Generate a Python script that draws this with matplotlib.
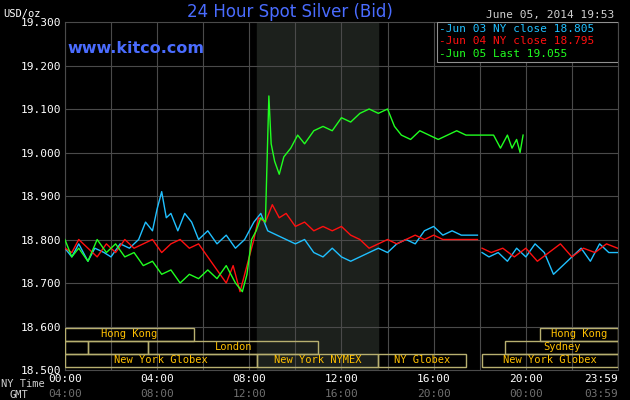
import matplotlib
matplotlib.use('Agg')
import matplotlib.pyplot as plt
import numpy as np

# hours (NY time) and prices
blue_t = [0, 0.3, 0.6, 1.0, 1.3, 1.7, 2.0, 2.4, 2.8, 3.2, 3.5, 3.8, 4.0, 4.2, 4.4, 4.6, 4.9, 5.2, 5.5, 5.8,
          6.2, 6.6, 7.0, 7.4, 7.8, 8.0, 8.2, 8.5, 8.8, 9.2, 9.6, 10.0, 10.4, 10.8, 11.2, 11.6, 12.0, 12.4, 12.8,
          13.2, 13.6, 14.0, 14.4, 14.8, 15.2, 15.6, 16.0, 16.4, 16.8, 17.2, 17.6, 17.9, 18.0,
          18.1, 18.4, 18.8, 19.2, 19.6, 20.0, 20.4, 20.8, 21.2, 21.6, 22.0, 22.4, 22.8, 23.2, 23.6, 23.98]
blue_v = [18.78, 18.76, 18.79, 18.75, 18.78, 18.77, 18.76, 18.79, 18.78, 18.80, 18.84, 18.82, 18.87, 18.91, 18.85, 18.86, 18.82, 18.86, 18.84, 18.80,
          18.82, 18.79, 18.81, 18.78, 18.80, 18.82, 18.84, 18.86, 18.82, 18.81, 18.80, 18.79, 18.80, 18.77, 18.76, 18.78, 18.76, 18.75, 18.76,
          18.77, 18.78, 18.77, 18.79, 18.80, 18.79, 18.82, 18.83, 18.81, 18.82, 18.81, 18.81, 18.81, np.nan,
          18.77, 18.76, 18.77, 18.75, 18.78, 18.76, 18.79, 18.77, 18.72, 18.74, 18.76, 18.78, 18.75, 18.79, 18.77, 18.77]

red_t = [0, 0.3, 0.6, 1.0, 1.4, 1.8, 2.2, 2.6, 3.0, 3.4, 3.8, 4.2, 4.6, 5.0, 5.4, 5.8, 6.2, 6.6, 7.0, 7.3, 7.6, 7.8,
         8.0, 8.2, 8.4, 8.7, 9.0, 9.3, 9.6, 10.0, 10.4, 10.8, 11.2, 11.6, 12.0, 12.4, 12.8, 13.2, 13.6, 14.0, 14.4,
         14.8, 15.2, 15.6, 16.0, 16.4, 16.8, 17.2, 17.6, 17.9, 18.0,
         18.1, 18.5, 19.0, 19.5, 20.0, 20.5, 21.0, 21.5, 22.0, 22.5, 23.0, 23.5, 23.98]
red_v = [18.78, 18.77, 18.80, 18.78, 18.76, 18.79, 18.77, 18.80, 18.78, 18.79, 18.80, 18.77, 18.79, 18.80, 18.78, 18.79, 18.76, 18.73, 18.70, 18.74, 18.68, 18.72,
         18.76, 18.80, 18.85, 18.84, 18.88, 18.85, 18.86, 18.83, 18.84, 18.82, 18.83, 18.82, 18.83, 18.81, 18.80, 18.78, 18.79, 18.80, 18.79,
         18.80, 18.81, 18.80, 18.81, 18.80, 18.80, 18.80, 18.80, 18.80, np.nan,
         18.78, 18.77, 18.78, 18.76, 18.78, 18.75, 18.77, 18.79, 18.76, 18.78, 18.77, 18.79, 18.78]

green_t = [0, 0.3, 0.6, 1.0, 1.4, 1.8, 2.2, 2.6, 3.0, 3.4, 3.8, 4.2, 4.6, 5.0, 5.4, 5.8, 6.2, 6.6, 7.0, 7.4, 7.7, 7.9,
           8.1, 8.3, 8.5, 8.7, 8.85, 8.95, 9.1, 9.3, 9.5, 9.8, 10.1, 10.4, 10.8, 11.2, 11.6, 12.0, 12.4, 12.8, 13.2,
           13.6, 14.0, 14.3, 14.6, 15.0, 15.4, 15.8, 16.2, 16.6, 17.0, 17.4, 17.8, 18.2, 18.6, 18.9, 19.2, 19.4, 19.6, 19.75, 19.88]
green_v = [18.80, 18.76, 18.78, 18.75, 18.80, 18.77, 18.79, 18.76, 18.77, 18.74, 18.75, 18.72, 18.73, 18.70, 18.72, 18.71, 18.73, 18.71, 18.74, 18.70, 18.68, 18.72,
           18.80, 18.82, 18.85, 18.84, 19.13, 19.02, 18.98, 18.95, 18.99, 19.01, 19.04, 19.02, 19.05, 19.06, 19.05, 19.08, 19.07, 19.09, 19.10,
           19.09, 19.10, 19.06, 19.04, 19.03, 19.05, 19.04, 19.03, 19.04, 19.05, 19.04, 19.04, 19.04, 19.04, 19.01, 19.04, 19.01, 19.03, 19.00, 19.04]

# trading sessions: (row, start hour, end hour, label)
sessions = [(0, 0, 5.6, 'Hong Kong'), (0, 20.6, 24, 'Hong Kong'),
            (1, 0, 1.0, ''), (1, 1.0, 3.6, ''), (1, 3.6, 11.0, 'London'), (1, 19.1, 24, 'Sydney'),
            (2, 0, 8.35, 'New York Globex'), (2, 8.35, 13.6, 'New York NYMEX'),
            (2, 13.6, 17.4, 'NY Globex'), (2, 18.1, 24, 'New York Globex')]

xticks = [0, 4, 8, 12, 16, 20, 23.98]
ny_labels = ['00:00', '04:00', '08:00', '12:00', '16:00', '20:00', '23:59']
gmt_labels = ['04:00', '08:00', '12:00', '16:00', '20:00', '00:00', '03:59']

mono = 'DejaVu Sans Mono'
fig = plt.figure(figsize=(6.3, 4.0), dpi=100, facecolor='black')
ax = fig.add_axes([0.103, 0.075, 0.878, 0.87], facecolor='black')
ax.set_xlim(0, 24)
ax.set_ylim(18.5, 19.3)

ax.axvspan(8.35, 13.6, color='#1c201c', zorder=0)
for h in range(0, 24, 2):
    ax.axvline(h, color='#4a4a4a', lw=0.8, zorder=1)
for y in np.arange(18.6, 19.3, 0.1):
    ax.axhline(y, color='#4a4a4a', lw=0.8, zorder=1)

row_h = 0.03
for row, s, e, lab in sessions:
    y0 = 18.597 - (row + 1) * row_h
    ax.add_patch(plt.Rectangle((s, y0), e - s, row_h, fill=False, ec='#b8b070', lw=1, zorder=3))
    if lab:
        ax.text((s + e) / 2, y0 + row_h / 2, lab, color='#ffc000', fontsize=7.5, family=mono,
                ha='center', va='center', zorder=4)

ax.plot(blue_t, blue_v, color='#20c0ff', lw=1, zorder=5)
ax.plot(red_t, red_v, color='#ff1010', lw=1, zorder=6)
ax.plot(green_t, green_v, color='#20ff20', lw=1, zorder=7)

ax.set_yticks(np.arange(18.5, 19.31, 0.1))
ax.set_yticklabels(['%.3f' % v for v in np.arange(18.5, 19.31, 0.1)], color='white', family=mono, fontsize=8)
ax.set_xticks(xticks)
ax.set_xticklabels(ny_labels, color='white', family=mono, fontsize=8)
ax.get_xticklabels()[-1].set_ha('right')
ax.tick_params(length=0, pad=3)
for sp in ax.spines.values():
    sp.set_color('#4a4a4a')
for x, g in zip(xticks, gmt_labels):
    ax.text(x, -0.055, g, transform=ax.get_xaxis_transform(), color='#707070', family=mono,
            fontsize=8, ha='right' if g == '03:59' else 'center', va='top')
fig.text(0.002, 0.04, 'NY Time', color='#d0d0d0', family=mono, fontsize=7.5, va='center')
fig.text(0.015, 0.012, 'GMT', color='#d0d0d0', family=mono, fontsize=7.5, va='center')
fig.text(0.005, 0.965, 'USD/oz', color='white', family=mono, fontsize=7.5, va='center')

fig.text(0.46, 0.97, '24 Hour Spot Silver (Bid)', color='#4a6cff', fontsize=12, ha='center', va='center')
fig.text(0.975, 0.963, 'June 05, 2014 19:53', color='#d0d0d0', family=mono, fontsize=8, ha='right', va='center')
ax.text(0.005, 0.925, 'www.kitco.com', transform=ax.transAxes, color='#4a6cff', fontsize=11.5,
        fontweight='bold', va='center')

ax.add_patch(plt.Rectangle((0.673, 0.885), 0.327, 0.115, transform=ax.transAxes, fc='black',
                           ec='#909090', lw=0.8, zorder=8))
leg = [('-Jun 03 NY close 18.805', '#20c0ff'), ('-Jun 04 NY close 18.795', '#ff1010'),
       ('-Jun 05 Last 19.055', '#20ff20')]
for i, (t, c) in enumerate(leg):
    fig.text(0.697, 0.9275 - i * 0.031, t, color=c, family=mono, fontsize=8, va='center', zorder=9)

fig.savefig('out.png', dpi=100, facecolor='black')
